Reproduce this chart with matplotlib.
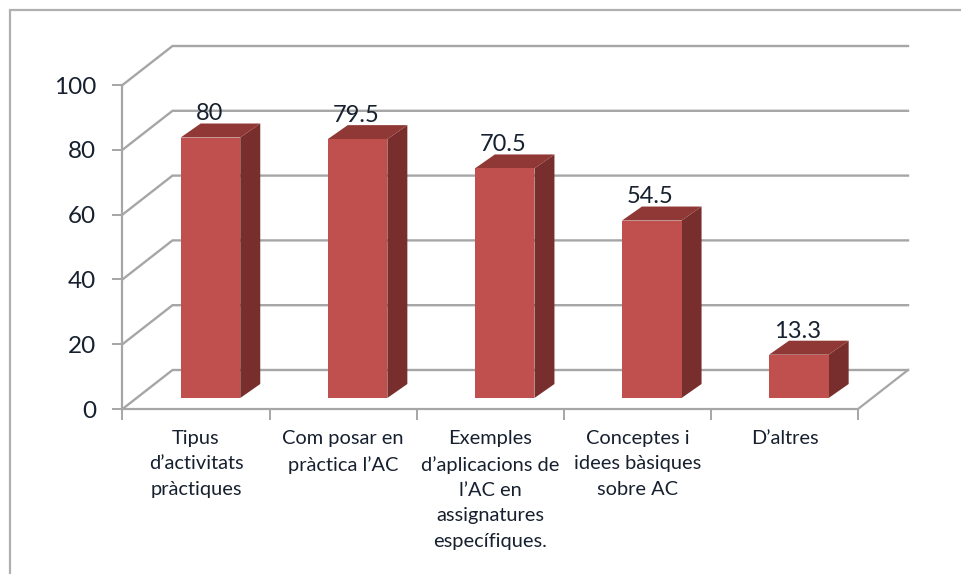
import matplotlib
matplotlib.use("Agg")
import matplotlib.pyplot as plt
from matplotlib.patches import Polygon, Rectangle

plt.rcParams['font.family'] = ['Lato', 'DejaVu Sans']

categories = ["Tipus\nd’activitats\npràctiques",
              "Com posar en\npràctica l’AC",
              "Exemples\nd’aplicacions de\nl’AC en\nassignatures\nespecífiques.",
              "Conceptes i\nidees bàsiques\nsobre AC",
              "D’altres"]
values = [80, 79.5, 70.5, 54.5, 13.3]
value_labels = ["80", "79.5", "70.5", "54.5", "13.3"]
yticks = [0, 20, 40, 60, 80, 100]

GRID = "#a6a6a6"
TEXT = "#16202e"
FRONT = "#c0504d"
TOP = "#8f3835"
SIDE = "#772e2c"

W, H = 962, 574
# depth of the fake 3d box, in data units (1 category = 147px, 1 value = 3.24px)
DX = 50 / 147.1
DY = 39 / 3.24
# bars sit a bit inside the floor
BAR_W = 0.405
BAR_X = 0.098
BAR_Y = 11 / 3.24
BAR_DX = 20 / 147.1
BAR_DY = 14 / 3.24
BAR_SCALE = 1.005

fig = plt.figure(figsize=(W / 100, H / 100), dpi=100)
ax = fig.add_axes([122.5 / W, (H - 409) / H, 735.5 / W, 324 / H])
n = len(categories)
ax.set_xlim(0, n)
ax.set_ylim(0, 100)
ax.patch.set_visible(False)
for s in ax.spines.values():
    s.set_visible(False)

# outer frame, runs off the picture on the right and bottom
fig.add_artist(Rectangle((10 / W, -0.1), 1.1, 1.1 - 10 / H, transform=fig.transFigure,
                         fill=False, ec="#b0b0b0", lw=1.6))

# walls and grid
for v in yticks:
    ax.plot([0, DX, n + DX], [v, v + DY, v + DY], color=GRID, lw=1.7, clip_on=False, zorder=1,
            solid_joinstyle="miter")
ax.plot([0, 0], [0, 100], color=GRID, lw=1.6, clip_on=False, zorder=2)
ax.plot([0, n, n + DX], [0, 0, DY], color=GRID, lw=1.6, clip_on=False, zorder=2)

# bars
xs = [i + 0.5 + BAR_X for i in range(n)]
heights = [v * BAR_SCALE for v in values]
ax.bar(xs, heights, width=BAR_W, bottom=BAR_Y, color=FRONT, clip_on=False, zorder=4)
for x, h, lab in zip(xs, heights, value_labels):
    l, r = x - BAR_W / 2, x + BAR_W / 2
    b, t = BAR_Y, h + BAR_Y
    ax.add_patch(Polygon([(r, b), (r + BAR_DX, b + BAR_DY), (r + BAR_DX, t + BAR_DY), (r, t)],
                         closed=True, fc=SIDE, ec="none", clip_on=False, zorder=3))
    ax.add_patch(Polygon([(l, t), (l + BAR_DX, t + BAR_DY), (r + BAR_DX, t + BAR_DY), (r, t)],
                         closed=True, fc=TOP, ec="none", clip_on=False, zorder=3))
    ax.annotate(lab, (x, t), xytext=(-1, 17), textcoords="offset points", ha="center", va="center",
                fontsize=17, color=TEXT, zorder=6, annotation_clip=False)

ax.set_yticks(yticks)
ax.set_yticklabels([str(v) for v in yticks], fontsize=17.5, color=TEXT)
ax.tick_params(axis="y", length=7, width=1.4, color=GRID, pad=12)
ax.set_xticks(range(n + 1))
ax.set_xticklabels([""] * (n + 1))
ax.tick_params(axis="x", length=8, width=1.4, color=GRID)

# category labels, centred between ticks
for i, c in enumerate(categories):
    ax.annotate(c, (i + 0.5, 0), xytext=(0, -15), textcoords="offset points", ha="center", va="top",
                fontsize=14.4, color=TEXT, linespacing=1.6, annotation_clip=False)

fig.savefig("out.png", dpi=100)
